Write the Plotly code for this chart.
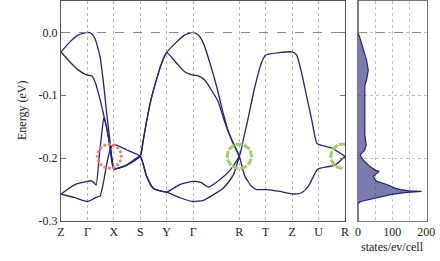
import numpy as np
import plotly.graph_objects as go

NAVY = "#23237a"
FONT = "Liberation Serif"

# high-symmetry path
kpts = [0, 1, 2, 3, 4, 5, 6.75, 7.75, 8.75, 9.75, 10.75]
klabels = ["Z", "Γ", "X", "S", "Y", "Γ", "R", "T", "Z", "U", "R"]

# bands (k, E)
t1_k = [0, 0.34, 0.66, 1.0, 1.16, 1.29, 1.48, 1.62, 1.72, 1.85, 1.93, 2.0,
        2.49, 3.0, 3.1, 3.22, 3.4, 3.6, 3.8, 4.0, 4.38, 4.69, 5.0,
        5.2, 5.39, 5.64, 5.89, 6.1, 6.3, 6.5, 6.75,
        6.96, 7.22, 7.41, 7.79, 8.29, 8.79, 9.11, 9.36, 9.68, 9.8, 10.37, 10.75]
t1_E = [-0.031, -0.015, -0.004, 0.0, -0.002, -0.010, -0.039, -0.085, -0.125, -0.172, -0.200, -0.217,
        -0.211, -0.197, -0.175, -0.146, -0.108, -0.077, -0.050, -0.032, -0.015, -0.004, 0.0,
        -0.004, -0.017, -0.049, -0.086, -0.122, -0.153, -0.174, -0.197,
        -0.229, -0.245, -0.250, -0.250, -0.253, -0.257, -0.255, -0.245, -0.219, -0.216, -0.211, -0.197]

t2_k = [0, 0.34, 0.66, 1.0, 1.16, 1.3, 1.48, 1.62, 1.72, 1.85, 2.0,
        2.49, 3.0, 3.1, 3.22, 3.4, 3.6, 3.8, 4.0, 4.38, 4.69, 5.0,
        5.2, 5.45, 5.7, 5.95, 6.1, 6.3, 6.5, 6.75]
t2_E = [-0.031, -0.047, -0.060, -0.068, -0.069, -0.080, -0.107, -0.132, -0.150, -0.180, -0.217,
        -0.211, -0.197, -0.175, -0.146, -0.108, -0.077, -0.050, -0.032, -0.049, -0.063, -0.068,
        -0.069, -0.076, -0.092, -0.110, -0.130, -0.155, -0.175, -0.197]

b3_k = [0, 0.53, 1.0, 1.16, 1.27, 1.33, 1.45, 1.55, 1.62, 1.72, 1.85, 2.0,
        2.49, 3.0, 3.24, 3.49, 3.75, 4.0, 4.5, 5.0,
        5.31, 5.58, 6.02, 6.4, 6.75,
        6.9, 7.07, 7.34, 7.6, 7.75, 8.75, 8.92, 9.11, 9.3, 9.49, 9.68, 9.8, 10.25, 10.75]
b3_E = [-0.257, -0.242, -0.237, -0.236, -0.240, -0.243, -0.195, -0.158, -0.135, -0.150, -0.180, -0.217,
        -0.211, -0.197, -0.229, -0.248, -0.252, -0.254, -0.242, -0.237,
        -0.239, -0.246, -0.234, -0.219, -0.197,
        -0.171, -0.139, -0.086, -0.047, -0.036, -0.031, -0.036, -0.065, -0.102, -0.139, -0.176, -0.179, -0.184, -0.197]

b4_k = [0, 0.53, 1.0, 1.22, 1.35, 1.48, 1.6, 1.75, 1.88, 2.0,
        2.49, 3.0, 3.24, 3.49, 3.75, 4.0, 4.5, 5.0,
        5.39, 5.7, 6.14, 6.52, 6.75]
b4_E = [-0.257, -0.263, -0.269, -0.265, -0.262, -0.260, -0.240, -0.205, -0.184, -0.178,
        -0.187, -0.197, -0.229, -0.248, -0.252, -0.254, -0.263, -0.269,
        -0.267, -0.260, -0.248, -0.227, -0.197]

# density of states (states/eV/cell) vs energy
dos_E = [0.05, 0.0, -0.0095, -0.028, -0.044, -0.060, -0.076, -0.084, -0.107, -0.123, -0.163,
         -0.179, -0.187, -0.195, -0.203, -0.212, -0.219, -0.221, -0.225, -0.229, -0.234,
         -0.237, -0.242, -0.248, -0.250, -0.252, -0.253, -0.255, -0.258, -0.262, -0.265,
         -0.269, -0.272, -0.30]
dos_v = [0, 0, 6, 15, 25, 30, 25, 20, 20, 20, 20,
         24, 20, 6, 15, 32, 50, 62, 52, 45, 50,
         55, 84, 110, 125, 150, 186, 135, 95, 62, 42,
         8, 0, 0]

# highlighted crossings: (k, E, colour)
circles = [(1.83, -0.197, "#f3826a", "dot"), (6.75, -0.197, "#9fd066", "dash"),
           (10.67, -0.197, "#9fd066", "dash")]

fig = go.Figure()
for kk, ee in [(t1_k, t1_E), (t2_k, t2_E), (b3_k, b3_E), (b4_k, b4_E)]:
    fig.add_trace(go.Scatter(x=kk, y=ee, mode="lines", line=dict(color=NAVY, width=1.3, shape="spline", smoothing=0.5),
                             xaxis="x", yaxis="y", hoverinfo="skip", showlegend=False))

fig.add_trace(go.Scatter(x=dos_v, y=dos_E, mode="lines", fill="tozerox", fillcolor="rgba(35,35,120,0.6)",
                         line=dict(color=NAVY, width=1.2), xaxis="x2", yaxis="y2", showlegend=False))

# circle markers (radius ~12px)
rx, ry = 0.45, 0.019
for cx, cy, col, kind in circles:
    if kind == "dot":
        th = np.linspace(0, 2 * np.pi, 17)[:-1]
        fig.add_trace(go.Scatter(x=cx + rx * np.cos(th), y=cy + ry * np.sin(th), mode="markers",
                                 marker=dict(size=3.2, color=col), cliponaxis=False, showlegend=False,
                                 xaxis="x", yaxis="y"))
    else:
        th = np.linspace(0, 2 * np.pi, 10)[:-1] + 0.2
        fig.add_trace(go.Scatter(x=cx + rx * np.cos(th), y=cy + ry * np.sin(th), mode="markers",
                                 marker=dict(symbol="line-ns", size=5, angle=list(-np.degrees(th)),
                                             line=dict(width=3, color=col)),
                                 cliponaxis=False, showlegend=False, xaxis="x", yaxis="y"))

# zero reference lines
for xa, ya in [("x", "y"), ("x2", "y2")]:
    fig.add_shape(type="line", xref=xa + " domain", x0=0, x1=1, yref=ya, y0=0, y1=0,
                  line=dict(color="#888888", width=1.1, dash="dash"))

tf = dict(family=FONT, size=12, color="#222")
fig.update_layout(
    width=440, height=261, margin=dict(l=61, r=13, t=1, b=40),
    paper_bgcolor="white", plot_bgcolor="white", font=tf,
    xaxis=dict(domain=[0, 0.776], range=[0, 10.75], tickvals=kpts, ticktext=klabels,
               showgrid=True, gridcolor="#b4b4b4", griddash="dot", gridwidth=1,
               showline=True, mirror=True, linecolor="#555", linewidth=1, ticks="", zeroline=False,
               tickfont=tf),
    yaxis=dict(range=[-0.3, 0.05], tickvals=[-0.3, -0.2, -0.1, 0.0], ticktext=["-0.3", "-0.2", "-0.1", "0.0"],
               showgrid=False, showline=True, mirror="ticks", linecolor="#555", linewidth=1,
               ticks="inside", ticklen=5, tickcolor="#777", zeroline=False, tickfont=tf),
    xaxis2=dict(domain=[0.8115, 1], range=[0, 202], tickvals=[0, 50, 100, 150, 200],
                ticktext=["0", "", "100", "", "200"], showgrid=True, gridcolor="#c4c4c4", griddash="dot",
                showline=True, mirror=True, linecolor="#777", linewidth=1, ticks="", zeroline=False,
                anchor="y2", tickfont=tf),
    yaxis2=dict(range=[-0.3, 0.05], anchor="x2", tickvals=[-0.3, -0.2, -0.1, 0.0], showticklabels=False,
                showgrid=True, gridcolor="#c4c4c4", griddash="dot", showline=True, mirror=True,
                linecolor="#777", linewidth=1, ticks="", zeroline=False),
    annotations=[
        dict(text="Energy (eV)", xref="paper", yref="paper", x=0, y=0.5, xshift=-39, textangle=-90,
             showarrow=False, font=tf, xanchor="center", yanchor="middle"),
        dict(text="states/ev/cell", xref="x2 domain", yref="paper", x=0.5, y=0, yshift=-26,
             showarrow=False, font=tf, xanchor="center", yanchor="middle"),
    ],
)

fig.write_html("out.html", config={"displayModeBar": False},
               post_script="document.body.style.margin='0';")
